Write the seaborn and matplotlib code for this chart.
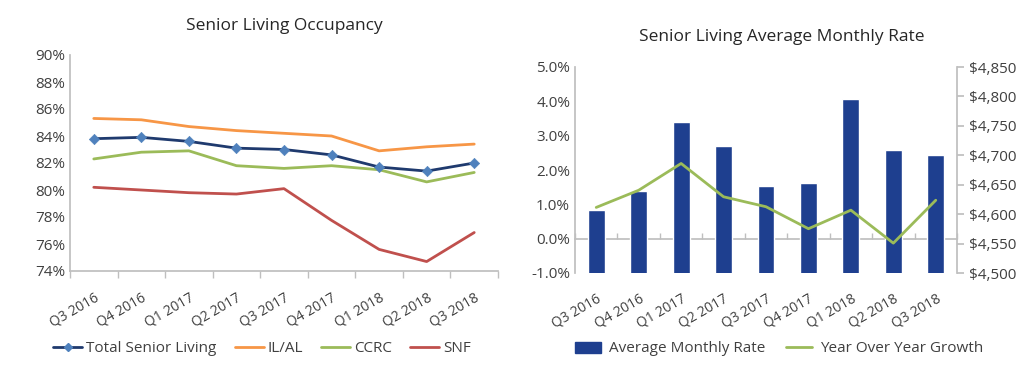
import numpy as np
import pandas as pd
import matplotlib
matplotlib.use("Agg")
import matplotlib.pyplot as plt
import seaborn as sns
from matplotlib.ticker import FuncFormatter, FixedLocator

quarters = ["Q3 2016", "Q4 2016", "Q1 2017", "Q2 2017", "Q3 2017",
            "Q4 2017", "Q1 2018", "Q2 2018", "Q3 2018"]

total_senior = [83.8, 83.9, 83.6, 83.1, 83.0, 82.6, 81.7, 81.4, 82.0]
il_al = [85.3, 85.2, 84.7, 84.4, 84.2, 84.0, 82.9, 83.2, 83.4]
ccrc = [82.3, 82.8, 82.9, 81.8, 81.6, 81.8, 81.5, 80.6, 81.3]
snf = [80.2, 80.0, 79.8, 79.7, 80.1, 77.75, 75.6, 74.7, 76.85]

avg_rate = [4607, 4639, 4756, 4715, 4648, 4653, 4796, 4709, 4701]
yoy_growth = [0.91, 1.41, 2.19, 1.22, 0.93, 0.29, 0.83, -0.13, 1.12]

sns.set_theme(style="white")
plt.rcParams["font.family"] = ["Open Sans", "DejaVu Sans"]
grey = "#404040"
spine_c = "#bfbfbf"
leg_font = {"size": 11}

fig = plt.figure(figsize=(10.24, 3.75), dpi=100)

# ---------- left: occupancy ----------
ax1 = fig.add_axes([70 / 1024, 1 - 271 / 375, 428 / 1024, 216 / 375])
occ = pd.DataFrame({
    "quarter": quarters * 4,
    "value": total_senior + il_al + ccrc + snf,
    "series": ["Total Senior Living"] * 9 + ["IL/AL"] * 9 + ["CCRC"] * 9 + ["SNF"] * 9,
})
palette = {"Total Senior Living": "#1f3a6e", "IL/AL": "#f79646",
           "CCRC": "#9bbb59", "SNF": "#c0504d"}
sns.lineplot(data=occ, x="quarter", y="value", hue="series", palette=palette,
             linewidth=2, ax=ax1, legend=False, sort=False)
sns.scatterplot(x=quarters, y=total_senior, marker="D", s=28, color="#4f81bd",
                edgecolor="#4f81bd", ax=ax1, zorder=5)
ax1.set_ylim(74, 90)
ax1.set_xlim(-0.5, 8.5)
ax1.set_yticks(np.arange(74, 91, 2))
ax1.yaxis.set_major_formatter(FuncFormatter(lambda v, p: f"{v:.0f}%"))
ax1.set_xlabel("")
ax1.set_ylabel("")
for s in ["top", "right"]:
    ax1.spines[s].set_visible(False)
for s in ["left", "bottom"]:
    ax1.spines[s].set_color(spine_c)
ax1.xaxis.set_minor_locator(FixedLocator(np.arange(-0.5, 9, 1)))
ax1.tick_params(axis="x", which="major", length=0, pad=14)
ax1.tick_params(axis="x", which="minor", length=5, color=spine_c, direction="out", bottom=True)
ax1.tick_params(axis="y", length=0, labelsize=11, colors=grey)
plt.setp(ax1.get_xticklabels(), rotation=30, ha="right", rotation_mode="anchor",
         fontsize=10, color=grey)
ax1.set_title("Senior Living Occupancy", fontsize=12.5, color="#262626", pad=18)
h1 = [plt.Line2D([], [], color="#1f3a6e", lw=2, marker="D", ms=4,
                 markerfacecolor="#4f81bd", markeredgecolor="#4f81bd"),
      plt.Line2D([], [], color="#f79646", lw=2),
      plt.Line2D([], [], color="#9bbb59", lw=2),
      plt.Line2D([], [], color="#c0504d", lw=2)]
fig.legend(h1, ["Total Senior Living", "IL/AL", "CCRC", "SNF"], loc="center left",
           bbox_to_anchor=(53 / 1024, 1 - 349 / 375), ncol=4, frameon=False,
           prop=leg_font, handlelength=1.9, handletextpad=0.25, columnspacing=1.2,
           labelcolor=grey, borderaxespad=0, borderpad=0)

# ---------- right: average monthly rate ----------
ax2 = fig.add_axes([575 / 1024, 1 - 273 / 375, 382 / 1024, 206 / 375])
ax3 = ax2.twinx()
sns.barplot(x=quarters, y=avg_rate, color="#1e3f8f", width=0.4, ax=ax3, saturation=1)
sns.lineplot(x=quarters, y=yoy_growth, color="#9bbb59", linewidth=2, ax=ax2, sort=False)
ax2.set_zorder(ax3.get_zorder() + 1)
ax2.patch.set_visible(False)
ax2.set_ylim(-1, 5)
ax2.set_yticks(np.arange(-1, 5.1, 1))
ax2.yaxis.set_major_formatter(FuncFormatter(lambda v, p: f"{v:.1f}%"))
ax3.set_ylim(4500, 4850)
ax3.set_yticks(np.arange(4500, 4851, 50))
ax3.yaxis.set_major_formatter(FuncFormatter(lambda v, p: f"${v:,.0f}"))
ax2.set_xlim(-0.5, 8.5)
ax2.xaxis.set_minor_locator(FixedLocator(np.arange(-0.5, 9, 1)))
for a in (ax2, ax3):
    a.spines["top"].set_visible(False)
    a.set_xlabel("")
ax2.spines["bottom"].set_visible(False)
ax2.spines["left"].set_color(spine_c)
ax2.spines["right"].set_visible(False)
ax3.spines["left"].set_visible(False)
ax3.spines["right"].set_color(spine_c)
# category axis line sits at 0.0% (1/6 up the -1%..5% range), behind the bars
ax3.xaxis.set_visible(True)
ax3.spines["bottom"].set_visible(True)
ax3.spines["bottom"].set_position(("axes", 1 / 6))
ax3.spines["bottom"].set_color(spine_c)
ax3.spines["bottom"].set_zorder(0.5)
ax3.tick_params(axis="x", which="major", length=0, labelbottom=False)
ax3.tick_params(axis="x", which="minor", length=4, color=spine_c, direction="in", bottom=True)
ax2.tick_params(axis="x", which="major", length=0, pad=13)
ax2.tick_params(axis="x", which="minor", length=0)
ax2.tick_params(axis="y", length=0, labelsize=11, colors=grey)
ax3.tick_params(axis="y", length=5, color=spine_c, labelsize=11, colors=grey, direction="out")
plt.setp(ax2.get_xticklabels(), rotation=30, ha="right", rotation_mode="anchor",
         fontsize=10, color=grey)
ax2.set_title("Senior Living Average Monthly Rate", fontsize=12.5, color="#262626",
              pad=19, x=0.542)
h2 = [plt.Rectangle((0, 0), 1, 1, color="#1e3f8f"),
      plt.Line2D([], [], color="#9bbb59", lw=2)]
fig.legend(h2, ["Average Monthly Rate", "Year Over Year Growth"], loc="center left",
           bbox_to_anchor=(575 / 1024, 1 - 349 / 375), ncol=2, frameon=False,
           prop=leg_font, handlelength=1.7, handletextpad=0.5, columnspacing=1.4,
           labelcolor=grey, borderaxespad=0, borderpad=0)

fig.savefig("out.png", dpi=100)
